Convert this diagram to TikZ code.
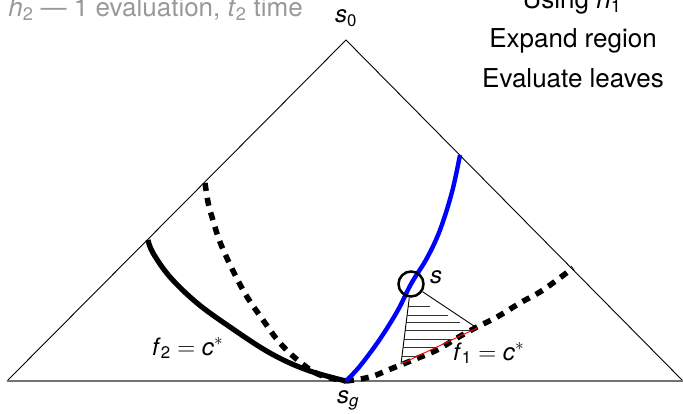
\documentclass[tikz,border=0pt]{standalone}
\usepackage{fontspec}
\setmainfont{TeX Gyre Heros}
\begin{document}
\begin{tikzpicture}[x=1pt,y=-1pt,
  side/.style={line width=0.9pt,black},
  baseline/.style={line width=1.8pt,black!55},
  thickblack/.style={line width=5.2pt,black,line cap=butt},
  dashblack/.style={line width=5.5pt,black,dash pattern=on 8pt off 7pt},
  bluecurve/.style={line width=4.4pt,blue},
  hatch/.style={line width=0.7pt,black!80},
  lbl/.style={font=\fontsize{24}{28}\selectfont,inner sep=0pt,anchor=base west},
  txt/.style={font=\fontsize{26}{31}\selectfont,inner sep=0pt,anchor=base}]
\useasboundingbox (0,0) rectangle (683,413);
% triangle
\coordinate (s0) at (346,40);
\coordinate (L) at (7,381);
\coordinate (R) at (683,381);
\coordinate (sg) at (346,381);
\draw[side] (L) -- (s0) -- (R);
\draw[baseline] (L) -- (R);
% left solid curve f2
\draw[thickblack] plot[smooth,tension=0.6] coordinates {(148,240) (153,253) (170,277) (197,303) (230,327) (270,353) (307,370) (346,381)};
% left dashed curve
\draw[dashblack] plot[smooth,tension=0.6] coordinates {(205,183) (208,202) (212,217) (222,247) (243,290) (263,320) (280,343) (300,362) (320,375) (346,381)};
% right dashed curve
\draw[dashblack] plot[smooth,tension=0.6] coordinates {(346,381) (370,377) (393,368) (413,360) (437,350) (457,338) (477,327) (497,317) (520,303) (543,290) (573,268)};
% blue curve
\draw[bluecurve] plot[smooth,tension=0.6] coordinates {(346,381) (360,366) (380,339) (398,310) (411,284) (427,258) (440,230) (452,192) (460,155)};
% hatched triangle
\node[circle,draw,line width=2.5pt,minimum size=25pt,inner sep=0pt] (s) at (411,284) {};
\coordinate (a) at (401,364);
\coordinate (b) at (477,328);
\draw[hatch] (408.2,306.7) -- (430,306.7);
\draw[hatch] (407.2,315) -- (448,315);
\draw[hatch] (406.2,322.7) -- (460,322.7);
\draw[hatch] (405.2,330.7) -- (470,330.7);
\draw[hatch] (404.2,339.3) -- (453,339.3);
\draw[hatch] (403.2,347.3) -- (436,347.3);
\draw[hatch] (402.2,356) -- (418,356);
\draw[side] (s) -- (a);
\draw[side] (s) -- (b);
\draw[line width=0.9pt,red] (a) -- (b);
% labels
\node[lbl,anchor=base] (ls0) at (346,22.7) {\textit{s}\textsubscript{0}};
\node[lbl] (ls) at (430,283) {\textit{s}};
\node[lbl,anchor=base] (lsg) at (348,403) {\textit{s}\textsubscript{\textit{g}}};
\node[lbl] (lf1) at (453,360) {\textit{f}\textsubscript{1}\;$=$\;\textit{c}$^{*}$};
\node[lbl] (lf2) at (152,355) {\textit{f}\textsubscript{2}\;$=$\;\textit{c}$^{*}$};
% texts
\node[txt,anchor=base east,text=black!40] (t2) at (303,16.5) {\textit{h}\textsubscript{2} — 1 evaluation, \textit{t}\textsubscript{2} time};
\node[txt] (u1) at (572,8) {Using \textit{h}\textsubscript{1}};
\node[txt] (u2) at (573,47) {Expand region};
\node[txt] (u3) at (573,87) {Evaluate leaves};
\end{tikzpicture}
\end{document}
